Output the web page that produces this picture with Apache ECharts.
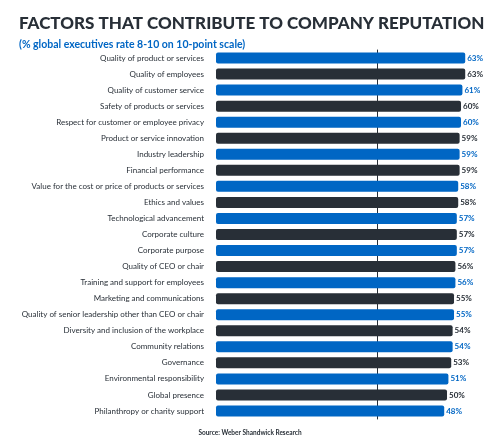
<!DOCTYPE html>
<html><head><meta charset="utf-8">
<script src="https://cdn.jsdelivr.net/npm/echarts@6/dist/echarts.min.js"></script>
<style>body{margin:0}#c{width:500px;height:440px}</style></head>
<body><div id="c"></div>
<script>
const categories = ["Quality of product or services","Quality of employees","Quality of customer service","Safety of products or services","Respect for customer or employee privacy","Product or service innovation","Industry leadership","Financial performance","Value for the cost or price of products or services","Ethics and values","Technological advancement","Corporate culture","Corporate purpose","Quality of CEO or chair","Training and support for employees","Marketing and communications","Quality of senior leadership other than CEO or chair","Diversity and inclusion of the workplace","Community relations","Governance","Environmental responsibility","Global presence","Philanthropy or charity support"];
const values = [63,63,61,60,60,59,59,59,58,58,57,57,57,56,56,55,55,54,54,53,51,50,48];
const BLUE = '#0066c4', DARK = '#282f37';
const XMIN = -115;
const chart = echarts.init(document.getElementById('c'));
chart.setOption({
  animation:false,
  textStyle:{fontFamily:'Lato'},
  title:[{text:'FACTORS THAT CONTRIBUTE TO COMPANY REPUTATION',left:14,top:10,textStyle:{fontSize:17,fontWeight:900,color:DARK,fontFamily:'Lato'}},
         {text:'(% global executives rate 8-10 on 10-point scale)',left:14,top:34,textStyle:{fontSize:10.5,fontWeight:'bold',color:BLUE,fontFamily:'Lato'}},
         {text:'Source: Weber Shandwick Research',left:'center',top:424,textStyle:{fontSize:6.5,fontWeight:'bold',color:DARK,fontFamily:'Lato'}}],
  grid:{left:216,right:24,top:50,height:369},
  xAxis:{type:'value',min:XMIN,max:70.7,show:false},
  yAxis:{type:'category',inverse:true,data:categories,offset:6,
    axisLine:{show:true,lineStyle:{color:DARK,width:1}},axisTick:{show:false},
    axisLabel:{fontSize:8,color:DARK,margin:6,fontFamily:'Lato'}},
  series:[{type:'custom',
    data:values.map((v,i)=>[v,i]),
    encode:{x:0,y:1},
    renderItem:(params,api)=>{
      const i=api.value(1), v=api.value(0);
      const p0=api.coord([XMIN,i]), p1=api.coord([v,i]);
      const h=11, col=i%2?DARK:BLUE;
      return {type:'group',children:[
        {type:'rect',shape:{x:p0[0],y:p0[1]-h/2,width:p1[0]-p0[0],height:h,r:2},style:{fill:col}},
        {type:'text',style:{x:p1[0]+2,y:p1[1],text:v+'%',fill:col,font:'bold 8px Lato',verticalAlign:'middle',align:'left'}}
      ]};
    }}]
});
</script></body></html>
